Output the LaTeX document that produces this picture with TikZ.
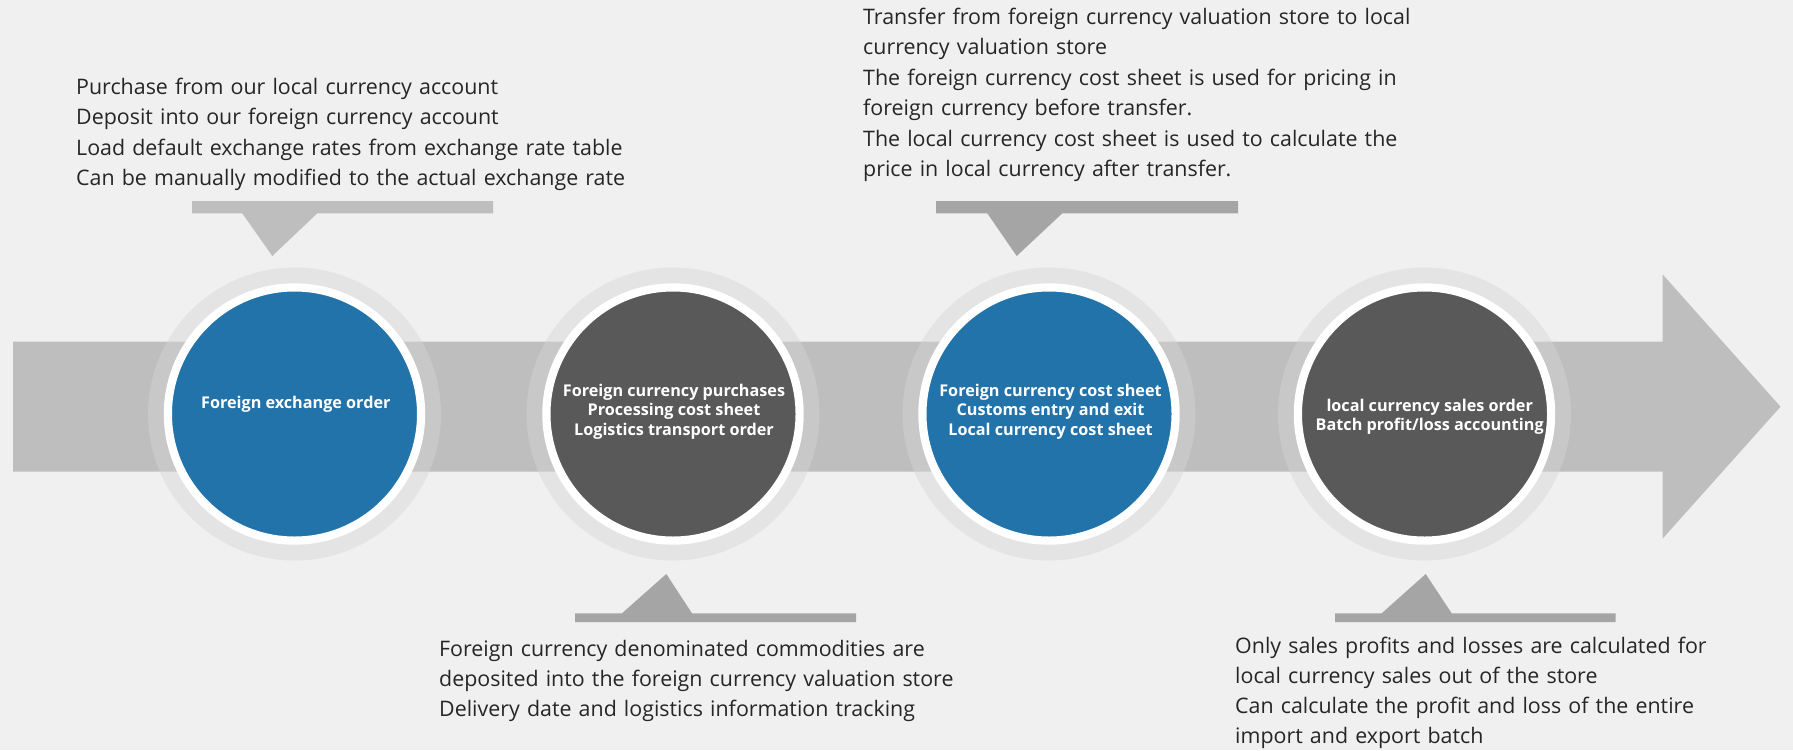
\documentclass[tikz,border=0pt]{standalone}
\usepackage{fontspec}
\setmainfont{Open Sans}
\definecolor{bg}{HTML}{F0F0F0}
\definecolor{bandgray}{HTML}{BEBEBE}
\definecolor{calloutA}{HTML}{BEBEBE}
\definecolor{calloutB}{HTML}{A5A5A5}
\definecolor{ringgray}{HTML}{D5D5D5}
\definecolor{stepblue}{HTML}{2373AB}
\definecolor{stepdark}{HTML}{595959}
\definecolor{bodytext}{HTML}{262626}
\begin{document}
\begin{tikzpicture}[x=1pt,y=-1pt,
  halo/.style={circle, inner sep=0pt, fill=ringgray, fill opacity=0.44, minimum size=293pt},
  core/.style={circle, inner sep=0pt, minimum size=253.2pt, draw=white, line width=8.2pt},
  steplabel/.style={text=white, font=\fontsize{16.2}{19.5}\selectfont\bfseries, align=center, inner sep=0pt},
  desc/.style={text=bodytext, font=\fontsize{21.4}{30.5}\selectfont, align=left, text width=640pt, inner sep=0pt, anchor=base west}
]
\useasboundingbox (0,0) rectangle (1793,750);
\fill[bg] (0,0) rectangle (1793,750);

% main arrow
\fill[bandgray] (13,341.7) -- (1662.6,341.7) -- (1662.6,274.4) -- (1780.5,406.7)
  -- (1662.6,538.6) -- (1662.6,471.7) -- (13,471.7) -- cycle;

% callouts
\fill[calloutA] (192,201) -- (493,201) -- (493,213.3) -- (317.3,213.3) -- (272.3,256)
  -- (242.3,213.3) -- (192,213.3) -- cycle;
\fill[calloutB] (936,201) -- (1238,201) -- (1238,213.3) -- (1062.3,213.3) -- (1016.7,256)
  -- (987.3,213.3) -- (936,213.3) -- cycle;
\fill[calloutB] (575,622) -- (856,622) -- (856,613.3) -- (692,613.3) -- (666.3,574)
  -- (622,613.3) -- (575,613.3) -- cycle;
\fill[calloutB] (1335,622) -- (1615.7,622) -- (1615.7,613.3) -- (1451.7,613.3) -- (1425.7,574)
  -- (1381.7,613.3) -- (1335,613.3) -- cycle;

% steps
\node[halo] (h1) at (294.5,414) {};
\node[halo] (h2) at (673,414) {};
\node[halo] (h3) at (1049,414) {};
\node[halo] (h4) at (1424.5,414) {};
\node[core, fill=stepblue] (c1) at (294.5,414) {};
\node[core, fill=stepdark] (c2) at (673,414) {};
\node[core, fill=stepblue] (c3) at (1049,414) {};
\node[core, fill=stepdark] (c4) at (1424.5,414) {};

\node[steplabel] (l1) at (295.8,404) {Foreign exchange order};
\node[steplabel] (l2) at (674,411.5) {Foreign currency purchases\\Processing cost sheet\\Logistics transport order};
\node[steplabel] (l3) at (1050.5,411.5) {Foreign currency cost sheet\\Customs entry and exit\\Local currency cost sheet};
\node[steplabel] (l4) at (1429.7,417) {local currency sales order\\Batch profit/loss accounting};

% descriptions
\node[desc] (d1) at (76,94.3) {Purchase from our local currency account\\Deposit into our foreign currency account\\Load default exchange rates from exchange rate table\\Can be manually modified to the actual exchange rate};
\node[desc] (d3) at (863,24) {Transfer from foreign currency valuation store to local\\currency valuation store\\The foreign currency cost sheet is used for pricing in\\foreign currency before transfer.\\The local currency cost sheet is used to calculate the\\price in local currency after transfer.};
\node[desc, font=\fontsize{21.4}{30}\selectfont] (d2) at (439,656.7) {Foreign currency denominated commodities are\\deposited into the foreign currency valuation store\\Delivery date and logistics information tracking};
\node[desc, font=\fontsize{21.4}{30.2}\selectfont] (d4) at (1235,653.3) {Only sales profits and losses are calculated for\\local currency sales out of the store\\Can calculate the profit and loss of the entire\\import and export batch};
\end{tikzpicture}
\end{document}
